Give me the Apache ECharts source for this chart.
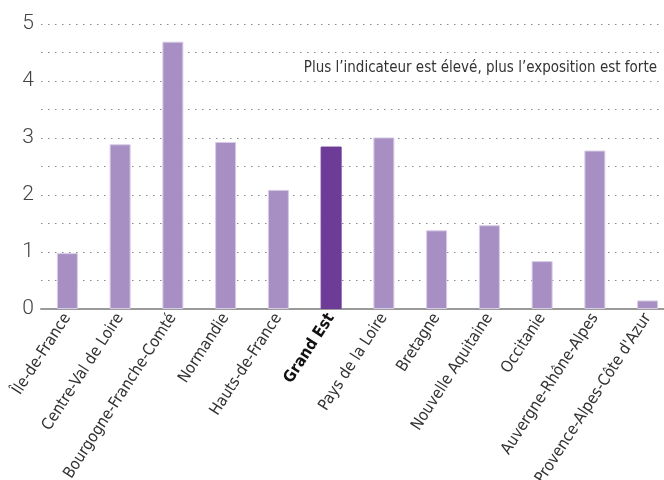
<!DOCTYPE html>
<html><head><meta charset="utf-8">
<script src="https://cdn.jsdelivr.net/npm/echarts@6/dist/echarts.min.js"></script>
<style>html,body{margin:0;padding:0;background:#fff}#c{width:664px;height:480px}</style>
</head><body><div id="c"></div>
<script>
var categories = ["Île-de-France","Centre-Val de Loire","Bourgogne-Franche-Comté","Normandie","Hauts-de-France","Grand Est","Pays de la Loire","Bretagne","Nouvelle Aquitaine","Occitanie","Auvergne-Rhône-Alpes","Provence-Alpes-Côte d'Azur"];
var values = [0.98, 2.89, 4.69, 2.93, 2.09, 2.85, 3.01, 1.38, 1.47, 0.84, 2.78, 0.15];
var highlight = "Grand Est";
var note = "Plus l’indicateur est élevé, plus l’exposition est forte";
var FONT = "'DejaVu Sans Condensed',sans-serif";
var chart = echarts.init(document.getElementById('c'));
chart.setOption({
  animation:false,
  grid:{left:41,right:-10,top:24,bottom:171,containLabel:false,outerBoundsMode:'none'},
  xAxis:{type:'category',data:categories,
    axisLine:{lineStyle:{color:'#9a9a9a',width:2}},axisTick:{show:false},
    axisLabel:{rotate:57,interval:0,margin:6,fontFamily:FONT,fontSize:16,color:'#333',
      formatter:function(v){return v===highlight?'{b|'+v+'}':v;},
      rich:{b:{fontWeight:'bold',color:'#111',fontFamily:FONT,fontSize:16}}}},
  yAxis:{type:'value',min:0,max:5,interval:0.5,
    axisLine:{show:false},axisTick:{show:false},
    splitLine:{lineStyle:{type:[1.5,5.5],color:'#8a8a8a',width:1}},
    axisLabel:{fontFamily:"Roboto,sans-serif",fontWeight:300,fontSize:21,color:'#444',margin:7,
      formatter:function(v){return Number.isInteger(v)?String(v):'';}}},
  series:[{type:'bar',barWidth:21,
    data:values.map(function(v,i){return {value:v,itemStyle:{color:categories[i]===highlight?'#6d3c97':'#a78fc4',borderColor:categories[i]===highlight?'#6d3c97':'#d8cce6',borderWidth:1}};})}],
  graphic:[{type:'text',right:7,top:61,style:{text:note,fontFamily:FONT,fontSize:15,fill:'#333'}}]
});
</script></body></html>
